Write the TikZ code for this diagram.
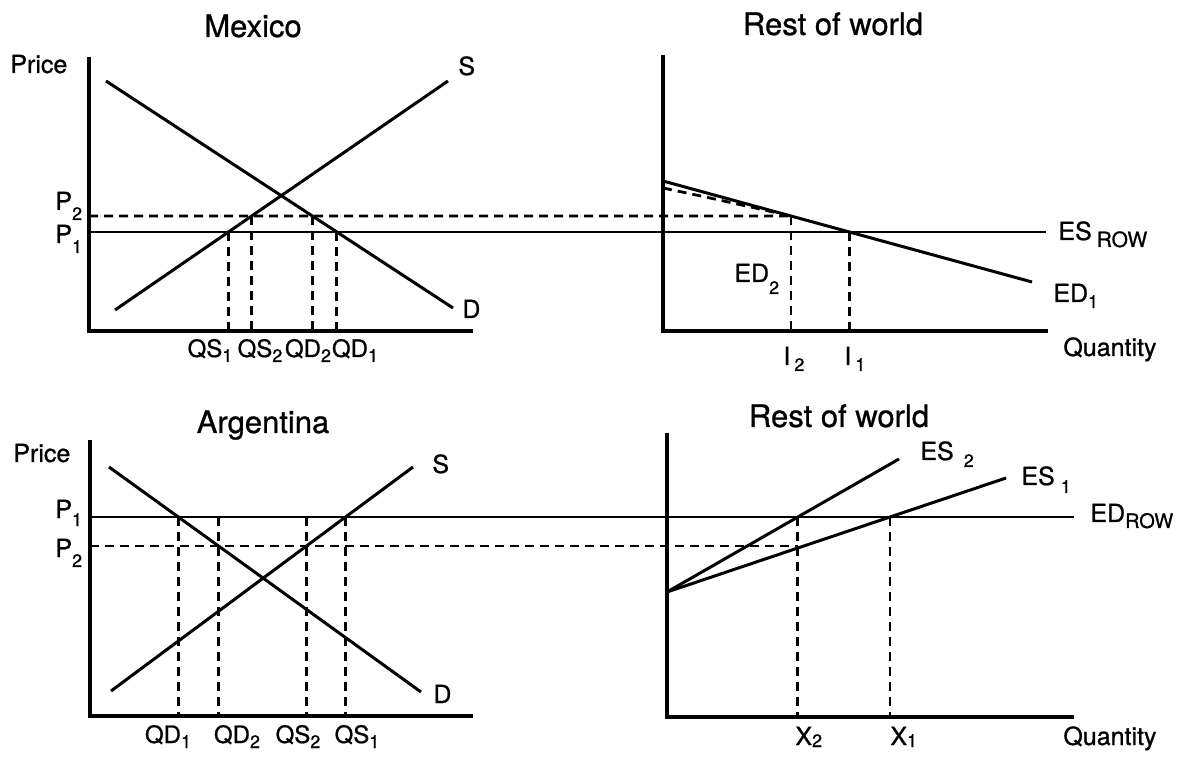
\documentclass[tikz,border=0pt]{standalone}
\usepackage{fontspec}
\setmainfont{TeX Gyre Heros}[FakeBold=0.8]
\usetikzlibrary{positioning, calc}
\newcommand{\lsub}[2][2.5pt]{\raisebox{-#1}{\fontsize{9}{9}\selectfont #2}}

\begin{document}
\begin{tikzpicture}[
    x=0.5pt, y=-0.5pt,
    axis/.style={line width=1.7pt},
    curve/.style={line width=1.5pt},
    level/.style={line width=1.2pt},
    guide/.style={line width=1.4pt, dash pattern=on 4.5pt off 3pt},
    lbl/.style={inner sep=0pt, anchor=base west, font=\fontsize{12.5}{14}\selectfont},
    qlbl/.style={inner sep=0pt, anchor=base, font=\fontsize{12}{14}\selectfont},
    title/.style={inner sep=0pt, anchor=base, font=\fontsize{15.5}{18}\selectfont}
]
\useasboundingbox (0,0) rectangle (1177,758);
% Mexico (top left)
\coordinate (mxO)   at (89,331);
\coordinate (mxTop) at (89,57);
\coordinate (mxEnd) at (473,331);
\coordinate (mxDa)  at (106,81);
\coordinate (mxDb)  at (453,308);
\coordinate (mxSa)  at (115,310);
\coordinate (mxSb)  at (448,81);
\coordinate (mxP1)  at (89,232);
\coordinate (mxP2)  at (89,216);
\coordinate (mxP2r) at (1000,216);
% Rest of world (top right)
\coordinate (rwO)   at (663,331);
\coordinate (rwTop) at (663,55);
\coordinate (rwEnd) at (1048,331);
\coordinate (edA)   at (663,181);
\coordinate (edB)   at (1032,282);
\coordinate (ed2A)  at (663,188);
\coordinate (esrow) at (1046,232);
% Intersections
\coordinate (mxqs1) at (intersection of mxSa--mxSb and mxP1--esrow);
\coordinate (mxqs2) at (intersection of mxSa--mxSb and mxP2--mxP2r);
\coordinate (mxqd2) at (intersection of mxDa--mxDb and mxP2--mxP2r);
\coordinate (mxqd1) at (intersection of mxDa--mxDb and mxP1--esrow);
\coordinate (imp2)  at (intersection of edA--edB and mxP2--mxP2r);
\coordinate (imp1)  at (intersection of edA--edB and mxP1--esrow);

\draw[axis] (mxTop) -- (mxO) -- (mxEnd);
\draw[axis] (rwTop) -- (rwO) -- (rwEnd);
\draw[curve] (mxDa) -- (mxDb);
\draw[curve] (mxSa) -- (mxSb);
\draw[curve] (edA) -- (edB);
\draw[level] (mxP1) -- (esrow);
\draw[guide] (mxP2) -- (imp2);
\draw[guide] (ed2A) .. controls (715,199) .. (imp2);
\foreach \p in {mxqs1, mxqs2, mxqd2, mxqd1}
    \draw[guide] (\p) -- (\p |- mxO);
\draw[guide] (imp2) -- (imp2 |- rwO);
\draw[guide] (imp1) -- (imp1 |- rwO);

\node[title] (mxTitle) at (253,37) {Mexico};
\node[lbl] (mxPrice) at (10,73) {Price};
\node[lbl] (mxS) at (458,75) {S};
\node[lbl] (mxD) at (462,318) {D};
\node[lbl] (mxP2lbl) at (55,210) {P\lsub[5pt]{2}};
\node[lbl] (mxP1lbl) at (55,243) {P\lsub[5pt]{1}};
\node[qlbl] (mxQS1) at (210,357) {QS\lsub{1}};
\node[qlbl] (mxQS2) at (260,357) {QS\lsub{2}};
\node[qlbl] (mxQD2) at (308,357) {QD\lsub{2}};
\node[qlbl] (mxQD1) at (355,357) {QD\lsub{1}};

\node[title] (rwTitle) at (833,35) {Rest of world};
\node[lbl] (ed2lbl) at (734,282) {ED\lsub[6pt]{2}};
\node[lbl] (esrowlbl) at (1058,240) {ES\hspace{2.5pt}\raisebox{-3.5pt}{\fontsize{10.5}{11}\selectfont ROW}};
\node[lbl] (ed1lbl) at (1053,302) {ED\lsub[3pt]{1}};
\node[lbl] (rwQty) at (1063,356) {Quantity};
\node[lbl] (i2lbl) at (783,365) {I\hspace{2pt}\lsub[3pt]{2}};
\node[lbl] (i1lbl) at (844,365) {I\hspace{2pt}\lsub[3pt]{1}};

% Argentina (bottom left)
\coordinate (arO)   at (90,716);
\coordinate (arTop) at (90,440);
\coordinate (arEnd) at (473,716);
\coordinate (arDa)  at (109,467);
\coordinate (arDb)  at (421,692);
\coordinate (arSa)  at (111,691);
\coordinate (arSb)  at (413,467);
\coordinate (arP1)  at (90,517);
\coordinate (arP2)  at (90,546);
\coordinate (arP2r) at (1000,546);
% Rest of world (bottom right)
\coordinate (rbO)   at (667,717);
\coordinate (rbTop) at (667,433);
\coordinate (rbEnd) at (1074,717);
\coordinate (es0)   at (667,592);
\coordinate (es2b)  at (899,459);
\coordinate (es1b)  at (1006,478);
\coordinate (edrow) at (1074,517);
% Intersections
\coordinate (arqd1) at (intersection of arDa--arDb and arP1--edrow);
\coordinate (arqd2) at (intersection of arDa--arDb and arP2--arP2r);
\coordinate (arqs2) at (intersection of arSa--arSb and arP2--arP2r);
\coordinate (arqs1) at (intersection of arSa--arSb and arP1--edrow);
\coordinate (xp2)   at (intersection of es0--es2b and arP1--edrow);
\coordinate (xp1)   at (intersection of es0--es1b and arP1--edrow);

\draw[axis] (arTop) -- (arO) -- (arEnd);
\draw[axis] (rbTop) -- (rbO) -- (rbEnd);
\draw[curve] (arDa) -- (arDb);
\draw[curve] (arSa) -- (arSb);
\draw[curve] (es0) -- (es2b);
\draw[curve] (es0) -- (es1b);
\draw[level] (arP1) -- (edrow);
\draw[guide] (arP2) -- (xp2 |- arP2);
\foreach \p in {arqd1, arqd2, arqs2, arqs1}
    \draw[guide] (\p |- arP1) -- (\p |- arO);
\draw[guide] (xp2) -- (xp2 |- rbO);
\draw[guide] (xp1) -- (xp1 |- rbO);

\node[title] (arTitle) at (263,433) {Argentina};
\node[lbl] (arPrice) at (13,462) {Price};
\node[lbl] (arS) at (432,473) {S};
\node[lbl] (arD) at (433,703) {D};
\node[lbl] (arP1lbl) at (55,518) {P\lsub[4pt]{1}};
\node[lbl] (arP2lbl) at (55,557) {P\lsub[5pt]{2}};
\node[qlbl] (arQD1) at (168,743) {QD\lsub{1}};
\node[qlbl] (arQD2) at (237,743) {QD\lsub{2}};
\node[qlbl] (arQS2) at (298,743) {QS\lsub{2}};
\node[qlbl] (arQS1) at (357,743) {QS\lsub{1}};

\node[title] (rbTitle) at (839,427) {Rest of world};
\node[lbl] (es2lbl) at (920,460) {ES\hspace{5pt}\lsub[3.5pt]{2}};
\node[lbl] (es1lbl) at (1021,485) {ES\hspace{3pt}\lsub[4pt]{1}};
\node[lbl] (edrowlbl) at (1090,522) {ED\raisebox{-3pt}{\fontsize{10}{11}\selectfont ROW}};
\node[lbl] (x2lbl) at (795,745) {X\lsub[1pt]{2}};
\node[lbl] (x1lbl) at (890,745) {X\lsub[1pt]{1}};
\node[lbl] (rbQty) at (1063,745) {Quantity};
\end{tikzpicture}
\end{document}
